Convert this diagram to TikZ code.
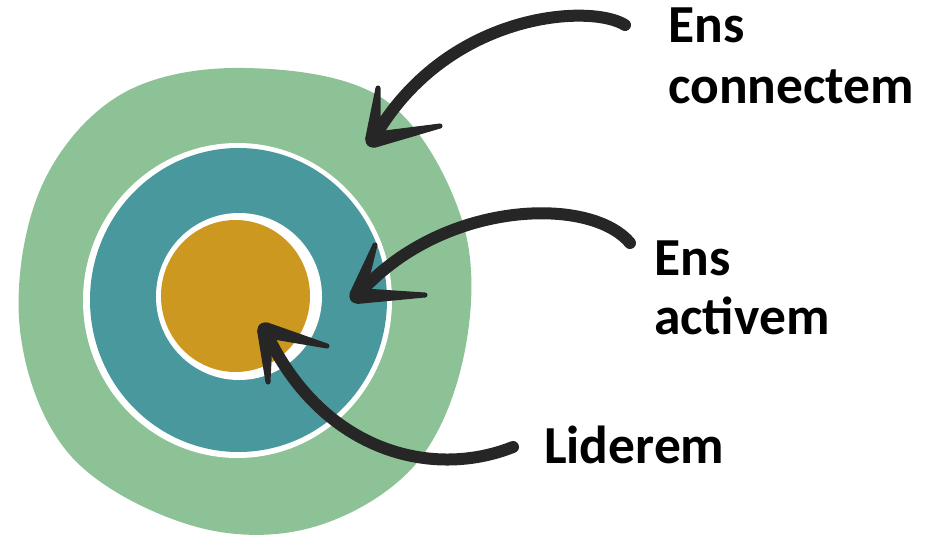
\documentclass[tikz,border=0pt]{standalone}
\usepackage{fontspec}
\setmainfont{Carlito}
\usetikzlibrary{calc}
\definecolor{outergreen}{HTML}{8DC196}
\definecolor{midteal}{HTML}{49989D}
\definecolor{coregold}{HTML}{CC9820}
\definecolor{ink}{HTML}{262626}
\newcommand\brushbarb[2]{%
  \fill[ink] ($(#1)!8pt!90:(#2)$) -- ($(#2)!2.5pt!-90:(#1)$) -- ($(#2)!2.5pt!90:(#1)$) -- ($(#1)!8pt!-90:(#2)$) -- cycle;
  \fill[ink] (#2) circle (2.5pt);
  \fill[ink] (#1) circle (7.5pt);}
\tikzset{
  shaft/.style={draw=ink, line width=12pt, line cap=round},
  lbl/.style={anchor=base west, inner sep=0pt, font=\fontsize{53.5}{60}\selectfont\bfseries}
}
\begin{document}
\begin{tikzpicture}[x=1pt,y=-1pt]
\useasboundingbox (0,0) rectangle (932,535);
% outer green blob
\fill[outergreen] plot[smooth cycle, tension=0.6] coordinates {
 (245,68) (385,100) (462,220) (465,350) (415,465) (310,528)
 (190,525) (70,455) (20,330) (40,190) (120,95)};
% teal ring
\fill[white] (237.5,300.5) ellipse [x radius=154.5, y radius=157.5];
\fill[midteal] (238.5,300) ellipse [x radius=148.5, y radius=152];
% gold core
\fill[white] (239,296.5) ellipse [x radius=83, y radius=83.5];
\fill[coregold] (235.5,296) ellipse [x radius=74.5, y radius=76];

% arrow 1
\coordinate (a1s) at (625,25);
\coordinate (a1t) at (373,140);
\coordinate (a1b) at (378,88);
\coordinate (a1c) at (440,126);
\draw[shaft] (a1s) .. controls (590,3) and (445,12) .. (a1t);
\brushbarb{a1t}{a1b}
\brushbarb{a1t}{a1c}

% arrow 2
\coordinate (a2s) at (630,243);
\coordinate (a2t) at (357,296);
\coordinate (a2b) at (375,245);
\coordinate (a2c) at (425,295);
\draw[shaft] (a2s) .. controls (590,195) and (440,200) .. (a2t);
\brushbarb{a2t}{a2b}
\brushbarb{a2t}{a2c}

% arrow 3
\coordinate (a3s) at (513,447);
\coordinate (a3t) at (265,330);
\coordinate (a3b) at (268,382);
\coordinate (a3c) at (327,346);
\draw[shaft] (a3s) .. controls (430,480) and (320,450) .. (a3t);
\brushbarb{a3t}{a3b}
\brushbarb{a3t}{a3c}

% labels
\node[lbl] (l1a) at (668,43) {Ens};
\node[lbl] (l1b) at (668,103) {connectem};
\node[lbl] (l2a) at (654,275) {Ens};
\node[lbl] (l2b) at (654,334) {activem};
\node[lbl] (l3) at (544,463) {Liderem};
\end{tikzpicture}
\end{document}
